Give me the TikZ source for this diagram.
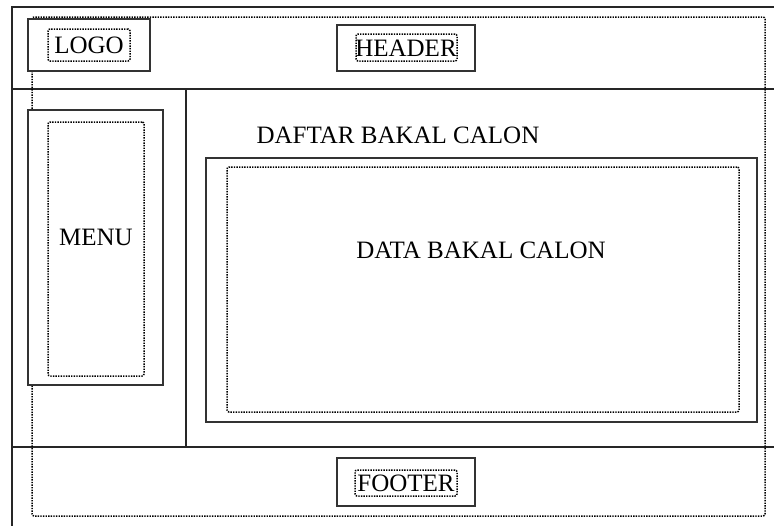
\documentclass[tikz,border=0pt]{standalone}
\usepackage{fontspec}
\setmainfont{Liberation Serif}
\begin{document}
\begin{tikzpicture}[x=1pt,y=-1pt,
  solidline/.style={draw=black!85,line width=1.6pt},
  boxline/.style={draw=black!80,line width=2pt},
  dotline/.style={draw=black,line width=1.5pt,dash pattern=on 1.4pt off 1.2pt,rounded corners=2pt},
  lbl/.style={font=\fontsize{25}{25}\selectfont,inner sep=0pt}]
\useasboundingbox (0,0) rectangle (774,525);
% outer frame (cropped at right and bottom)
\coordinate (otl) at (12,7);
\coordinate (otr) at (775,7);
\coordinate (obl) at (12,526);
\draw[solidline] (otr) -- (otl) -- (obl);
\coordinate (hl) at (12,89);
\coordinate (hr) at (775,89);
\coordinate (fl) at (12,447);
\coordinate (fr) at (775,447);
\coordinate (vt) at (186,89);
\coordinate (vb) at (186,447);
\draw[solidline] (hl) -- (hr);
\draw[solidline] (fl) -- (fr);
\draw[solidline] (vt) -- (vb);
% big dotted frame
\draw[dotline] (32,17) rectangle (765,516);
% logo
\node[boxline,minimum width=122pt,minimum height=52pt,inner sep=0pt,fill=white] (logobox) at (89,45) {};
\node[dotline,minimum width=82pt,minimum height=32pt,inner sep=0pt] (logoin) at (89,45) {};
\node[lbl] (logo) at (89,45) {LOGO};
% header
\node[boxline,minimum width=138pt,minimum height=46pt,inner sep=0pt] (headerbox) at (406,48) {};
\node[dotline,minimum width=101pt,minimum height=27pt,inner sep=0pt] (headerin) at (406.5,47.5) {};
\node[lbl] (header) at (406,48) {HEADER};
% menu
\node[boxline,minimum width=135pt,minimum height=275pt,inner sep=0pt,fill=white] (menubox) at (95.5,247.5) {};
\node[dotline,minimum width=96pt,minimum height=254pt,inner sep=0pt] (menuin) at (96,249) {};
\node[lbl] (menu) at (96,237) {MENU};
% content
\node[lbl] (daftar) at (398,135) {DAFTAR BAKAL CALON};
\node[boxline,minimum width=551pt,minimum height=264pt,inner sep=0pt] (databox) at (481.5,290) {};
\node[dotline,minimum width=512pt,minimum height=245pt,inner sep=0pt] (datain) at (483,289.5) {};
\node[lbl] (data) at (481,250) {DATA BAKAL CALON};
% footer
\node[boxline,minimum width=138pt,minimum height=48pt,inner sep=0pt] (footerbox) at (406,482) {};
\node[dotline,minimum width=102pt,minimum height=26pt,inner sep=0pt] (footerin) at (406,483) {};
\node[lbl] (footer) at (406,483) {FOOTER};
\end{tikzpicture}
\end{document}
